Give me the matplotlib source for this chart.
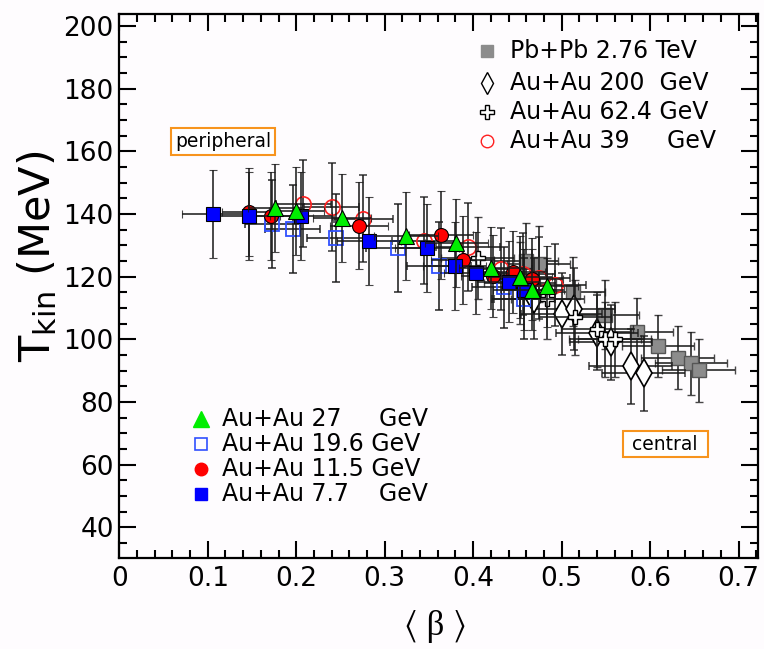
import matplotlib
matplotlib.use("Agg")
import matplotlib.pyplot as plt
from matplotlib.ticker import MultipleLocator

plt.rcParams['font.family'] = ['DejaVu Sans']
plt.rcParams['mathtext.fontset'] = 'dejavusans'

# ---------------- data ----------------
# Pb+Pb 2.76 TeV
pb_x = [0.460, 0.474, 0.513, 0.549, 0.585, 0.609, 0.631, 0.646, 0.655]
pb_y = [125.0, 124.0, 115.2, 107.8, 102.3, 97.9, 94.1, 92.3, 90.1]
pb_xe = [0.036, 0.036, 0.036, 0.039, 0.041, 0.041, 0.041, 0.041, 0.041]
pb_ye = [12, 12, 11, 11, 11, 10, 10, 10, 10]

# Au+Au 200 GeV
a200_x = [0.469, 0.500, 0.514, 0.540, 0.556, 0.578, 0.593]
a200_y = [113.0, 108.0, 109.6, 102.1, 99.0, 91.4, 89.1]
a200_xe = [0.046, 0.046, 0.046, 0.046, 0.046, 0.047, 0.047]
a200_ye = [13, 13, 13, 12, 12, 12, 12]

# Au+Au 62.4 GeV
a62_x = [0.405, 0.453, 0.484, 0.515, 0.540, 0.549, 0.560]
a62_y = [126.0, 118.0, 113.0, 107.0, 103.2, 100.0, 100.0]
a62_xe = [0.041, 0.041, 0.041, 0.041, 0.041, 0.041, 0.041]
a62_ye = [13, 13, 13, 12, 12, 12, 12]

# Au+Au 39 GeV
a39_x = [0.208, 0.240, 0.276, 0.344, 0.394, 0.431, 0.456, 0.474, 0.492]
a39_y = [143.3, 142.2, 138.5, 131.5, 129.4, 122.4, 120.8, 119.5, 117.3]
a39_xe = [0.031, 0.031, 0.033, 0.036, 0.036, 0.036, 0.036, 0.036, 0.036]
a39_ye = [14, 14, 14, 14, 14, 13, 13, 13, 13]

# Au+Au 19.6 GeV
a19_x = [0.173, 0.196, 0.245, 0.315, 0.361, 0.435, 0.457]
a19_y = [136.9, 135.3, 132.3, 129.1, 123.3, 116.6, 113.0]
a19_xe = [0.031, 0.031, 0.033, 0.036, 0.036, 0.036, 0.036]
a19_ye = [14, 14, 14, 14, 14, 13, 13]

# Au+Au 11.5 GeV
a11_x = [0.147, 0.172, 0.271, 0.364, 0.388, 0.422, 0.445, 0.466]
a11_y = [140.6, 139.3, 136.3, 133.3, 125.4, 120.2, 121.4, 119.3]
a11_xe = [0.031, 0.031, 0.033, 0.036, 0.036, 0.036, 0.036, 0.036]
a11_ye = [14, 14, 14, 14, 14, 13, 13, 13]

# Au+Au 7.7 GeV
a7_x = [0.106, 0.147, 0.205, 0.282, 0.348, 0.379, 0.403, 0.440, 0.458]
a7_y = [140.0, 139.3, 139.3, 131.3, 129.2, 123.3, 121.2, 118.4, 115.8]
a7_xe = [0.035, 0.035, 0.035, 0.036, 0.036, 0.036, 0.036, 0.036, 0.036]
a7_ye = [14, 14, 14, 14, 14, 14, 13, 13, 13]

# Au+Au 27 GeV
a27_x = [0.176, 0.200, 0.252, 0.324, 0.381, 0.420, 0.453, 0.467, 0.483]
a27_y = [141.9, 141.0, 138.7, 132.9, 130.8, 122.7, 119.8, 115.8, 116.9]
a27_xe = [0.031, 0.031, 0.033, 0.036, 0.036, 0.036, 0.036, 0.036, 0.036]
a27_ye = [14, 14, 14, 14, 14, 13, 13, 13, 13]

top_labels = ["Pb+Pb 2.76 TeV", "Au+Au 200  GeV", "Au+Au 62.4 GeV", "Au+Au 39     GeV"]
bot_labels = ["Au+Au 27     GeV", "Au+Au 19.6 GeV", "Au+Au 11.5 GeV", "Au+Au 7.7    GeV"]
x_ticks = [0, 0.1, 0.2, 0.3, 0.4, 0.5, 0.6, 0.7]
y_ticks = [40, 60, 80, 100, 120, 140, 160, 180, 200]

# ---------------- figure ----------------
bg = '#fefcfe'
W, H = 764, 649
fig = plt.figure(figsize=(W / 100, H / 100), dpi=100, facecolor=bg)
L, R, T, B = 119.3, 757.5, 14, 558
ax = fig.add_axes([L / W, 1 - B / H, (R - L) / W, (B - T) / H], facecolor=bg)

ecol = (0.1, 0.1, 0.1, 0.8)
ekw = dict(ecolor=ecol, elinewidth=1.4, capsize=3, capthick=1.4, linestyle='none')

series = [
    (pb_x, pb_y, pb_xe, pb_ye, dict(marker='s', ms=10, mfc='#8c8c8c', mec='#555555', mew=1.0)),
    (a200_x, a200_y, a200_xe, a200_ye, dict(marker='d', ms=14, mfc='white', mec='black', mew=1.2)),
    (a62_x, a62_y, a62_xe, a62_ye, dict(marker='P', ms=10, mfc='white', mec='black', mew=1.0)),
    (a39_x, a39_y, a39_xe, a39_ye, dict(marker='o', ms=11, mfc='none', mec='#ff2020', mew=1.2)),
    (a19_x, a19_y, a19_xe, a19_ye, dict(marker='s', ms=10, mfc='none', mec='#3050ff', mew=1.3)),
    (a11_x, a11_y, a11_xe, a11_ye, dict(marker='o', ms=10, mfc='#ff0000', mec='black', mew=0.8)),
    (a7_x, a7_y, a7_xe, a7_ye, dict(marker='s', ms=10, mfc='#0000ff', mec='black', mew=0.8)),
    (a27_x, a27_y, a27_xe, a27_ye, dict(marker='^', ms=12, mfc='#00ee00', mec='black', mew=0.8)),
]
for i, (x, y, xe, ye, mk) in enumerate(series):
    ax.errorbar(x, y, xerr=xe, yerr=ye, zorder=2 + i, **ekw, **mk)

ax.set_xlim(0, 0.7214)
ax.set_ylim(30.2, 203.8)
ax.set_xticks(x_ticks)
ax.set_xticklabels(["0" if v == 0 else f"{v:.1f}" for v in x_ticks])
ax.set_yticks(y_ticks)
ax.xaxis.set_minor_locator(MultipleLocator(0.02))
ax.yaxis.set_minor_locator(MultipleLocator(5))
ax.tick_params(which='both', direction='in', top=True, right=True, width=1.5)
ax.tick_params(which='major', length=12.5, labelsize=19)
ax.tick_params(axis='x', which='major', pad=6)
ax.tick_params(axis='y', which='major', pad=4)
ax.tick_params(which='minor', length=6)
for s in ax.spines.values():
    s.set_linewidth(1.6)

ax.set_ylabel(r"T$_{\rm kin}$ (MeV)", fontsize=31)
ax.yaxis.set_label_coords(-0.095, 0.555)
ax.set_xlabel("⟨ β ⟩", fontsize=25, family=['Liberation Serif', 'STIXGeneral', 'DejaVu Sans'])
ax.xaxis.set_label_coords(0.496, -0.095)

# boxes
box = dict(boxstyle='square,pad=0.2', facecolor='white', edgecolor='#f7941d', linewidth=1.5)
ax.text((223 - L) / (R - L), (B - 141.5) / (B - T), "peripheral", transform=ax.transAxes,
        fontsize=13.5, ha='center', va='center', bbox=box)
ax.text((665 - L) / (R - L), (B - 444) / (B - T), " central ", transform=ax.transAxes,
        fontsize=13.5, ha='center', va='center', bbox=box)

# legends (manual)
top_mk = [dict(marker='s', ms=8, mfc='#8c8c8c', mec='#8c8c8c'),
          dict(marker='d', ms=11, mfc='white', mec='black', mew=1.0),
          dict(marker='P', ms=10, mfc='white', mec='black', mew=1.0),
          dict(marker='o', ms=9, mfc='none', mec='#ff2020', mew=1.0)]
top_y = [51, 83, 112, 141]
for lab, mk, py in zip(top_labels, top_mk, top_y):
    fy = 1 - py / H
    fig.lines.append(plt.Line2D([487 / W], [fy], transform=fig.transFigure, **mk))
    fig.text(510 / W, fy, lab, fontsize=17, ha='left', va='center')

bot_mk = [dict(marker='^', ms=11, mfc='#00ee00', mec='#00ee00'),
          dict(marker='s', ms=9, mfc='none', mec='#3050ff', mew=1.2),
          dict(marker='o', ms=9, mfc='#ff0000', mec='#ff0000'),
          dict(marker='s', ms=9, mfc='#0000ff', mec='#0000ff')]
bot_y = [419, 444, 469, 494]
for lab, mk, py in zip(bot_labels, bot_mk, bot_y):
    fy = 1 - py / H
    fig.lines.append(plt.Line2D([201 / W], [fy], transform=fig.transFigure, **mk))
    fig.text(222 / W, fy, lab, fontsize=17, ha='left', va='center')

fig.savefig("out.png", dpi=100, facecolor=bg)
